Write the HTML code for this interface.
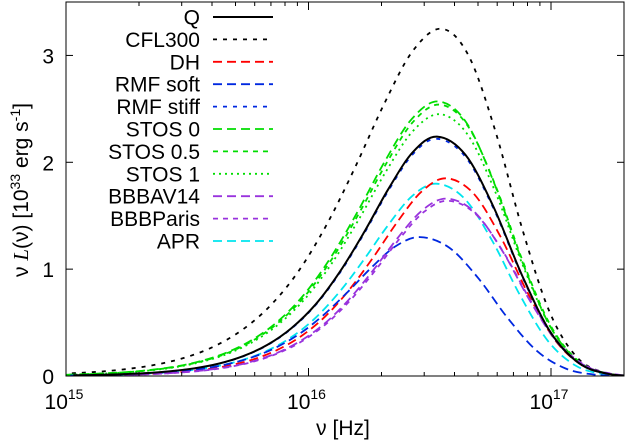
<!DOCTYPE html>
<html><head><meta charset="utf-8"><style>
html,body{margin:0;padding:0;background:#fff;}
svg{display:block;font-family:"Liberation Sans",sans-serif;}
</style></head><body>
<svg id="chart" width="626" height="444" viewBox="0 0 626 444">
<g id="curves"></g>
<g id="legend"></g>
<rect x="66" y="2" width="558" height="374" fill="none" stroke="#000" stroke-width="1"/>
<g id="axes"></g>
<text x="343" y="435" font-size="21" text-anchor="middle">ν [Hz]</text>
<text transform="translate(28,190) rotate(-90)" font-size="21" text-anchor="middle">ν <tspan font-family="Liberation Serif" font-style="italic">L</tspan>(ν)  [10<tspan font-size="14" dy="-8">33</tspan><tspan dy="8"> erg s</tspan><tspan font-size="14" dy="-8">-1</tspan><tspan dy="8">]</tspan></text>
</svg>
<script>
const seriesNames = ["Q","CFL300","DH","RMF soft","RMF stiff","STOS 0","STOS 0.5","STOS 1","BBBAV14","BBBParis","APR"];
const seriesColors = ["#000","#000","#f00","#0028e0","#0028e0","#00dd00","#00dd00","#00dd00","#9933dd","#9933dd","#00e5ee"];
const seriesDash = ["none","4,6","9,5","9,5","4,6","9,5","5,5","2,4","9,5","5,5","9,5"];
const peakValues = [2.24,3.25,1.85,1.30,2.22,2.57,2.54,2.45,1.66,1.64,1.80];
const peakLogNu = [16.53,16.547,16.568,16.46,16.53,16.535,16.54,16.54,16.57,16.575,16.527];
const leftWidth = [1.0,1.18,1.0,1.0,1.0,1.1,1.1,1.1,1.0,1.0,1.0];
const rightWidth = [1.17,1.12,1.12,1.2,1.17,1.15,1.15,1.15,1.15,1.15,1.15];
const shapeOffsets = [-1.5,-1.4,-1.3,-1.2,-1.1,-1.0,-0.9,-0.8,-0.7,-0.6,-0.5,-0.4,-0.3,-0.2,-0.1,0,0.1,0.2,0.3,0.4,0.5,0.6,0.7,0.8];
const shapeValues = [0.0028,0.0045,0.0075,0.0122,0.0199,0.0322,0.0519,0.0826,0.130,0.200,0.300,0.436,0.602,0.782,0.935,1,0.924,0.704,0.420,0.183,0.054,0.0098,0.0009,0];
const yTicks = [0,1,2,3];
const xDecades = [15,16,17];

const X0=66,X1=624,Y0=376,Y1=2, LMIN=15, LMAX=Math.log10(2e17), YMAX=3.5;
const sx = l => X0 + (l-LMIN)/(LMAX-LMIN)*(X1-X0);
const sy = v => Y0 - v/YMAX*(Y0-Y1);
const NS="http://www.w3.org/2000/svg";
function mk(tag, attrs, parent){const e=document.createElementNS(NS,tag);for(const k in attrs)e.setAttribute(k,attrs[k]);parent.appendChild(e);return e;}
const axes=document.getElementById('axes');
yTicks.forEach(v=>{
  mk('line',{x1:X0,x2:X0+7,y1:sy(v),y2:sy(v),stroke:'#000'},axes);
  mk('line',{x1:X1,x2:X1-7,y1:sy(v),y2:sy(v),stroke:'#000'},axes);
  const t=mk('text',{x:54,y:sy(v)+8,'font-size':21,'text-anchor':'end'},axes);
  
  
  t.textContent=v;
});
for(let d=15; d<=17; d++){
  for(let m=1;m<=9;m++){
    const l=d+Math.log10(m); if(l>LMAX) break;
    const len = m===1?8:4;
    mk('line',{x1:sx(l),x2:sx(l),y1:Y0,y2:Y0-len,stroke:'#000'},axes);
    mk('line',{x1:sx(l),x2:sx(l),y1:Y1,y2:Y1+len,stroke:'#000'},axes);
  }
}
xDecades.forEach(d=>{
  const t=mk('text',{x:sx(d)-2,y:409,'font-size':21,'text-anchor':'middle'},axes);
  
  
  t.innerHTML='10<tspan font-size="14" dy="-10">'+d+'</tspan>';
});
function smoothPath(pts){
  let d='M'+pts[0][0].toFixed(1)+','+pts[0][1].toFixed(1);
  for(let i=0;i<pts.length-1;i++){
    const p0=pts[Math.max(0,i-1)],p1=pts[i],p2=pts[i+1],p3=pts[Math.min(pts.length-1,i+2)];
    const c1=[p1[0]+(p2[0]-p0[0])/6,p1[1]+(p2[1]-p0[1])/6];
    const c2=[p2[0]-(p3[0]-p1[0])/6,p2[1]-(p3[1]-p1[1])/6];
    d+='C'+c1[0].toFixed(1)+','+Math.min(Y0,c1[1]).toFixed(1)+' '+c2[0].toFixed(1)+','+Math.min(Y0,c2[1]).toFixed(1)+' '+p2[0].toFixed(1)+','+p2[1].toFixed(1);
  }
  return d;
}
const defs=mk('defs',{},document.getElementById('chart'));
const cp=mk('clipPath',{id:'clip'},defs);
mk('rect',{x:X0,y:Y1,width:X1-X0,height:Y0-Y1},cp);
const curves=document.getElementById('curves');
const legend=document.getElementById('legend');
const order=[1,5,6,7,10,2,3,8,9,4,0];
order.forEach(i=>{
  const pts=[];
  shapeOffsets.forEach((o,k)=>{
    const l=peakLogNu[i]+o*(o<0?leftWidth[i]:rightWidth[i]);
    pts.push([sx(l),sy(peakValues[i]*shapeValues[k])]);
  });
  pts.push([sx(LMAX)+40,sy(0)]);
  const p=mk('path',{d:smoothPath(pts),fill:'none',stroke:seriesColors[i],'stroke-width':i===0?2:1.8,'stroke-dasharray':seriesDash[i],'stroke-linejoin':'round','clip-path':'url(#clip)'},curves);
  
  
});
seriesNames.forEach((n,i)=>{
  const y=17+i*22.4;
  const g=mk('g',{},legend);
  
  
  const t=mk('text',{x:200,y:y+7.5,'font-size':21,'text-anchor':'end'},g);
  t.textContent=n;
  mk('line',{x1:213,x2:273,y1:y,y2:y,stroke:seriesColors[i],'stroke-width':i===0?2:1.8,'stroke-dasharray':seriesDash[i]},g);
});
</script>
</body></html>
